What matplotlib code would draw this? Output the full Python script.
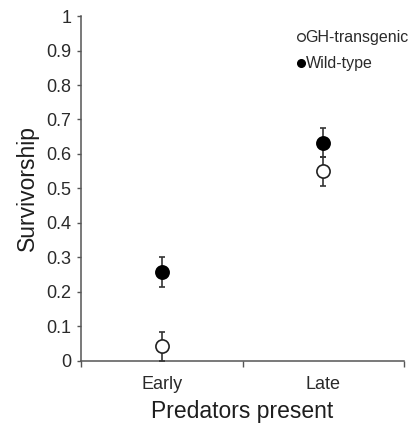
import matplotlib
matplotlib.use("Agg")
import matplotlib.pyplot as plt

plt.rcParams["font.family"] = ["Liberation Sans", "DejaVu Sans"]

# data
categories = ["Early", "Late"]
gh_mean = [0.042, 0.550]
gh_err = [0.043, 0.042]
wild_mean = [0.258, 0.633]
wild_err = [0.043, 0.043]

AXIS_COLOR = "#555555"

fig = plt.figure(figsize=(4.16, 4.23), dpi=100)
ax = fig.add_axes([0.195, 0.147, 0.776, 0.815])

xpos = [i + 0.5 for i in range(len(categories))]

ax.errorbar(xpos, wild_mean, yerr=wild_err, fmt="o", ms=9.5, mfc="black",
            mec="black", mew=1.2, ecolor="#333333", elinewidth=1.2, capsize=2.2,
            capthick=1.2, zorder=3)
ax.errorbar(xpos, gh_mean, yerr=gh_err, fmt="o", ms=9.5, mfc="white",
            mec="#222222", mew=1.2, ecolor="#333333", elinewidth=1.2, capsize=2.2,
            capthick=1.2, zorder=3)

ax.set_xlim(0, len(categories))
ax.set_ylim(0, 1)
ax.set_yticks([i / 10 for i in range(11)])
ax.set_yticklabels(["0"] + [f"{i / 10:.1f}" for i in range(1, 10)] + ["1"])

# category boundary ticks, labels in between
ax.set_xticks(range(len(categories) + 1))
ax.set_xticklabels([])
ax.set_xticks(xpos, minor=True)
ax.set_xticklabels(categories, minor=True)
ax.tick_params(axis="x", which="major", direction="out", length=4,
               width=1, color=AXIS_COLOR)
ax.tick_params(axis="x", which="minor", length=0, pad=11, labelsize=13,
               labelcolor="#2a2a2a")
ax.tick_params(axis="y", direction="out", length=3, width=1, color=AXIS_COLOR,
               labelsize=13, labelcolor="#2a2a2a", pad=4)

for side in ("top", "right"):
    ax.spines[side].set_visible(False)
for side in ("left", "bottom"):
    ax.spines[side].set_color(AXIS_COLOR)
    ax.spines[side].set_linewidth(1.1)

ax.set_xlabel("Predators present", fontsize=16.5, color="#1e1e1e", labelpad=5)
ax.set_ylabel("Survivorship", fontsize=16.5, color="#1e1e1e", labelpad=5)

# legend drawn as plain markers + text, upper right
ax.plot(1.365, 0.938, "o", ms=5.5, mfc="white", mec="#333333", mew=1.0,
        clip_on=False)
ax.text(1.39, 0.938, "GH-transgenic", fontsize=11.5, color="#2a2a2a",
        va="center", ha="left")
ax.plot(1.365, 0.863, "o", ms=5.5, mfc="black", mec="black", clip_on=False)
ax.text(1.39, 0.863, "Wild-type", fontsize=11.5, color="#2a2a2a",
        va="center", ha="left")

fig.savefig("out.png", dpi=100)
